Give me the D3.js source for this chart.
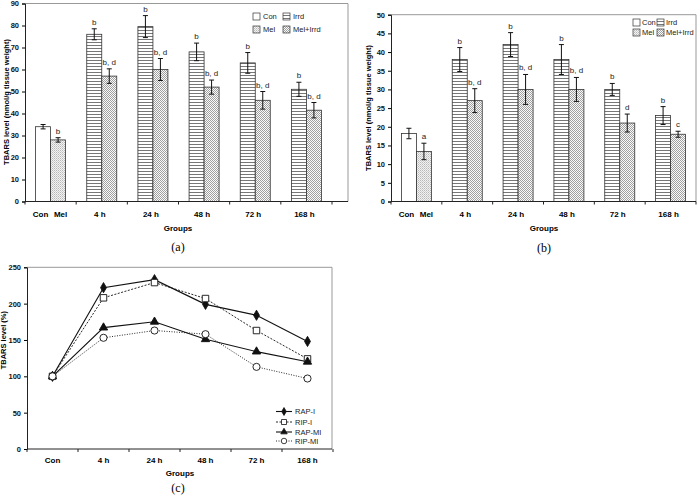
<!DOCTYPE html>
<html>
<head>
<meta charset="utf-8">
<script src="https://cdn.jsdelivr.net/npm/d3@7"></script>
<style>
  body { margin: 0; background: #fff; }
  svg { display: block; }
  text { font-family: "Liberation Sans", Arial, sans-serif; }
</style>
</head>
<body>
<svg id="c" width="697" height="497"></svg>
<script>
// ---------- DATA ----------
const barGroups = ["Con/Mel", "4 h", "24 h", "48 h", "72 h", "168 h"];
const firstGroupLabels = ["Con", "Mel"];
const legendBars = ["Con", "Irrd", "Mel", "Mel+Irrd"];

// Panel (a)
const aLeft = [34, 76, 79.5, 68, 63, 51];          // Con, then Irrd
const aRight = [28, 57, 60, 52, 46, 41.5];         // Mel, then Mel+Irrd
const aLeftErr = [1, 2.5, 5, 4, 4.7, 3.2];
const aRightErr = [1, 3.3, 5, 3.2, 4, 3.5];
const aLeftSig = ["", "b", "b", "b", "b", "b"];
const aRightSig = ["b", "b, d", "b, d", "b, d", "b, d", "b, d"];
const aTicks = [0, 10, 20, 30, 40, 50, 60, 70, 80, 90];

// Panel (b)
const bLeft = [18.2, 38, 42, 38, 30, 23];
const bRight = [13.4, 27, 30, 30, 21, 18];
const bLeftErr = [1.4, 3.2, 3.2, 4, 1.6, 2.4];
const bRightErr = [2.2, 3.2, 4, 3.2, 2.4, 0.8];
const bLeftSig = ["", "b", "b", "b", "b", "b"];
const bRightSig = ["a", "b, d", "b, d", "b, d", "d", "c"];
const bTicks = [0, 5, 10, 15, 20, 25, 30, 35, 40, 45, 50];

// Panel (c)
const lineGroups = ["Con", "4 h", "24 h", "48 h", "72 h", "168 h"];
const rapI = [100, 222, 233, 199, 184, 148];
const ripI = [100, 208, 229, 207, 163, 124];
const rapMI = [100, 167, 175, 151, 134, 120];
const ripMI = [100, 153, 163, 158, 113, 97];
const lineNames = ["RAP-I", "RIP-I", "RAP-MI", "RIP-MI"];
const cTicks = [0, 50, 100, 150, 200, 250];

// ---------- DRAWING ----------
const svg = d3.select("#c");
const defs = svg.append("defs");

// Patterns
const pH = defs.append("pattern").attr("id", "pIrrd").attr("patternUnits", "userSpaceOnUse")
  .attr("width", 4).attr("height", 3);
pH.append("rect").attr("width", 4).attr("height", 3).attr("fill", "#fff");
pH.append("rect").attr("y", 0).attr("width", 4).attr("height", 1).attr("fill", "#777");

const pM = defs.append("pattern").attr("id", "pMel").attr("patternUnits", "userSpaceOnUse")
  .attr("width", 2).attr("height", 2);
pM.append("rect").attr("width", 2).attr("height", 2).attr("fill", "#f2f2f2");
pM.append("rect").attr("width", 1).attr("height", 1).attr("fill", "#b8b8b8");
pM.append("rect").attr("x", 1).attr("y", 1).attr("width", 1).attr("height", 1).attr("fill", "#cfcfcf");

const pMI = defs.append("pattern").attr("id", "pMelIrrd").attr("patternUnits", "userSpaceOnUse")
  .attr("width", 2).attr("height", 2);
pMI.append("rect").attr("width", 2).attr("height", 2).attr("fill", "#fafafa");
pMI.append("rect").attr("width", 1).attr("height", 1).attr("fill", "#a0a0a0").attr("shape-rendering", "crispEdges");
pMI.append("rect").attr("x", 1).attr("y", 1).attr("width", 1).attr("height", 1).attr("fill", "#a0a0a0").attr("shape-rendering", "crispEdges");

const fills = { "Con": "#fff", "Irrd": "url(#pIrrd)", "Mel": "url(#pMel)", "Mel+Irrd": "url(#pMelIrrd)" };

function drawBarPanel(cfg) {
  const g = svg.append("g");
  const y = d3.scaleLinear().domain([0, cfg.max]).range([cfg.yBottom, cfg.yTop]);
  const x = d3.scaleBand().domain(barGroups).range([cfg.xLeft, cfg.xRight]);
  const bw = cfg.barW;

  // frame
  g.append("path")
    .attr("d", `M${cfg.xLeft},${cfg.yTop}H${cfg.frameRight}V${cfg.yBottom}`)
    .attr("fill", "none").attr("stroke", "#999").attr("stroke-width", 1);

  // bars
  barGroups.forEach((grp, i) => {
    const cx = x(grp) + x.bandwidth() / 2;
    const items = [
      { v: cfg.left[i], e: cfg.leftErr[i], s: cfg.leftSig[i], f: i === 0 ? fills["Con"] : fills["Irrd"], x0: cx - bw },
      { v: cfg.right[i], e: cfg.rightErr[i], s: cfg.rightSig[i], f: i === 0 ? fills["Mel"] : fills["Mel+Irrd"], x0: cx }
    ];
    items.forEach(it => {
      g.append("rect").attr("x", it.x0).attr("y", y(it.v)).attr("width", bw)
        .attr("height", y(0) - y(it.v)).attr("fill", it.f)
        .attr("stroke", "#333").attr("stroke-width", 0.8);
      const ex = it.x0 + bw / 2;
      g.append("line").attr("x1", ex).attr("x2", ex).attr("y1", y(it.v - it.e)).attr("y2", y(it.v + it.e))
        .attr("stroke", "#111").attr("stroke-width", 1);
      [it.v - it.e, it.v + it.e].forEach(vv => {
        g.append("line").attr("x1", ex - 2.5).attr("x2", ex + 2.5).attr("y1", y(vv)).attr("y2", y(vv))
          .attr("stroke", "#111").attr("stroke-width", 1);
      });
      if (it.s) {
        g.append("text").attr("x", ex).attr("y", y(it.v + it.e) - 4).attr("text-anchor", "middle")
          .attr("font-size", 8).attr("fill", "#222").text(it.s);
      }
    });
  });

  // y axis
  const ya = g.append("g").attr("transform", `translate(${cfg.xLeft},0)`)
    .call(d3.axisLeft(y).tickValues(cfg.ticks).tickSize(3).tickPadding(3));
  ya.select(".domain").attr("stroke", "#222");
  ya.selectAll("text").attr("font-size", 7.5).attr("font-weight", "bold").attr("fill", "#111")
    .style("font-family", "Liberation Sans, Arial, sans-serif");

  // x axis
  g.append("line").attr("x1", cfg.xLeft).attr("x2", cfg.frameRight).attr("y1", y(0)).attr("y2", y(0))
    .attr("stroke", "#222");
  const bnd = d3.range(barGroups.length + 1).map(k => cfg.xLeft + k * x.step());
  bnd.forEach(bx => {
    g.append("line").attr("x1", bx).attr("x2", bx).attr("y1", y(0)).attr("y2", y(0) + 3).attr("stroke", "#222");
  });
  barGroups.forEach((grp, i) => {
    const cx = x(grp) + x.bandwidth() / 2;
    if (i === 0) {
      g.append("text").attr("x", cx - 10).attr("y", cfg.yBottom + 15).attr("text-anchor", "middle")
        .attr("font-size", 8).attr("font-weight", "bold").text(firstGroupLabels[0]);
      g.append("text").attr("x", cx + 10).attr("y", cfg.yBottom + 15).attr("text-anchor", "middle")
        .attr("font-size", 8).attr("font-weight", "bold").text(firstGroupLabels[1]);
    } else {
      g.append("text").attr("x", cx - 2).attr("y", cfg.yBottom + 15).attr("text-anchor", "middle")
        .attr("font-size", 8).attr("font-weight", "bold").text(grp);
    }
  });
  g.append("text").attr("x", cfg.groupsX).attr("y", cfg.yBottom + 29).attr("text-anchor", "middle")
    .attr("font-size", 8).attr("font-weight", "bold").text("Groups");
  g.append("text").attr("x", cfg.groupsX).attr("y", cfg.capY).attr("text-anchor", "middle")
    .attr("font-size", 12).style("font-family", "Liberation Serif, Times New Roman, serif").text(cfg.cap);

  // y title
  g.append("text").attr("transform", `translate(${cfg.yTitleX},${cfg.yTitleY}) rotate(-90)`)
    .attr("text-anchor", "middle").attr("font-size", 7.5).attr("font-weight", "bold")
    .text("TBARS level (nmol/g tissue weight)");

  // legend
  const lg = g.append("g");
  legendBars.forEach((nm, k) => {
    const col = k % 2, row = Math.floor(k / 2);
    const lx = cfg.legX + col * cfg.legColW, ly = cfg.legY + row * cfg.legRowH;
    lg.append("rect").attr("x", lx).attr("y", ly - 6).attr("width", 7).attr("height", 7)
      .attr("fill", fills[nm]).attr("stroke", "#333").attr("stroke-width", 0.7);
    lg.append("text").attr("x", lx + cfg.legTextDx).attr("y", ly).attr("font-size", 7.5).attr("fill", "#222").text(nm);
  });
}

drawBarPanel({
  max: 90, ticks: aTicks, yTop: 3.5, yBottom: 201.5, xLeft: 25, xRight: 332, frameRight: 348, barW: 15,
  left: aLeft, right: aRight, leftErr: aLeftErr, rightErr: aRightErr, leftSig: aLeftSig, rightSig: aRightSig,
  groupsX: 178, capY: 251, cap: "(a)", yTitleX: 9, yTitleY: 102,
  legX: 253, legY: 19, legColW: 30, legRowH: 13, legTextDx: 10
});

drawBarPanel({
  max: 50, ticks: bTicks, yTop: 14.7, yBottom: 201.5, xLeft: 391, xRight: 696, frameRight: 696, barW: 15,
  left: bLeft, right: bRight, leftErr: bLeftErr, rightErr: bRightErr, leftSig: bLeftSig, rightSig: bRightSig,
  groupsX: 544, capY: 252, cap: "(b)", yTitleX: 371, yTitleY: 108,
  legX: 633, legY: 25, legColW: 24, legRowH: 10, legTextDx: 9
});

// ---------- Panel (c) ----------
(function () {
  const g = svg.append("g");
  const xL = 27, xR = 333, yT = 267.3, yB = 449;
  const y = d3.scaleLinear().domain([0, 250]).range([yB, yT]);
  const x = d3.scalePoint().domain(lineGroups).range([xL, xR]).padding(0.5);

  g.append("path").attr("d", `M${xL},${yT}H${xR - 1}V${yB}`).attr("fill", "none").attr("stroke", "#999");

  const ya = g.append("g").attr("transform", `translate(${xL},0)`)
    .call(d3.axisLeft(y).tickValues(cTicks).tickSize(3).tickPadding(3));
  ya.select(".domain").attr("stroke", "#222");
  ya.selectAll("text").attr("font-size", 7.5).attr("font-weight", "bold").attr("fill", "#111")
    .style("font-family", "Liberation Sans, Arial, sans-serif");

  g.append("line").attr("x1", xL).attr("x2", xR - 1).attr("y1", yB).attr("y2", yB).attr("stroke", "#222");
  const step = x.step();
  d3.range(lineGroups.length + 1).forEach(k => {
    const bx = xL + k * step;
    g.append("line").attr("x1", bx).attr("x2", bx).attr("y1", yB).attr("y2", yB + 3).attr("stroke", "#222");
  });
  lineGroups.forEach(grp => {
    g.append("text").attr("x", x(grp)).attr("y", yB + 14).attr("text-anchor", "middle")
      .attr("font-size", 8).attr("font-weight", "bold").text(grp);
  });
  g.append("text").attr("x", 180).attr("y", yB + 27).attr("text-anchor", "middle")
    .attr("font-size", 8).attr("font-weight", "bold").text("Groups");
  g.append("text").attr("x", 178).attr("y", 492).attr("text-anchor", "middle")
    .attr("font-size", 12).style("font-family", "Liberation Serif, Times New Roman, serif").text("(c)");
  g.append("text").attr("transform", `translate(6,${(yT + yB) / 2 - 18}) rotate(-90)`)
    .attr("text-anchor", "middle").attr("font-size", 7.5).attr("font-weight", "bold").text("TBARS level (%)");

  const series = [
    { name: lineNames[0], vals: rapI, dash: null, sym: d3.symbolDiamond, size: 30, fill: "#111" },
    { name: lineNames[1], vals: ripI, dash: "2,1.5", sym: d3.symbolSquare, size: 42, fill: "#fff" },
    { name: lineNames[2], vals: rapMI, dash: null, sym: d3.symbolTriangle, size: 30, fill: "#111" },
    { name: lineNames[3], vals: ripMI, dash: "1,1.5", sym: d3.symbolCircle, size: 40, fill: "#fff" }
  ];
  const line = d3.line().x((d, i) => x(lineGroups[i])).y(d => y(d));
  series.forEach(s => {
    g.append("path").attr("d", line(s.vals)).attr("fill", "none").attr("stroke", "#111")
      .attr("stroke-width", s.dash ? 0.9 : 1.1).attr("stroke-dasharray", s.dash);
  });
  series.forEach(s => {
    s.vals.forEach((v, i) => {
      g.append("path").attr("d", d3.symbol().type(s.sym).size(s.size)())
        .attr("transform", `translate(${x(lineGroups[i])},${y(v)})`)
        .attr("fill", s.fill).attr("stroke", "#111").attr("stroke-width", 0.9);
    });
  });

  // legend
  const legY = [411.5, 422, 432, 441];
  series.forEach((s, k) => {
    const ly = legY[k];
    g.append("line").attr("x1", 276).attr("x2", 292).attr("y1", ly).attr("y2", ly)
      .attr("stroke", "#111").attr("stroke-width", s.dash ? 0.9 : 1.1).attr("stroke-dasharray", s.dash);
    g.append("path").attr("d", d3.symbol().type(s.sym).size(s.size * 0.6)())
      .attr("transform", `translate(284,${ly})`).attr("fill", s.fill).attr("stroke", "#111").attr("stroke-width", 0.8);
    g.append("text").attr("x", 295).attr("y", ly + 2.7).attr("font-size", 7.5).attr("fill", "#222").text(s.name);
  });
})();
</script>
</body>
</html>
